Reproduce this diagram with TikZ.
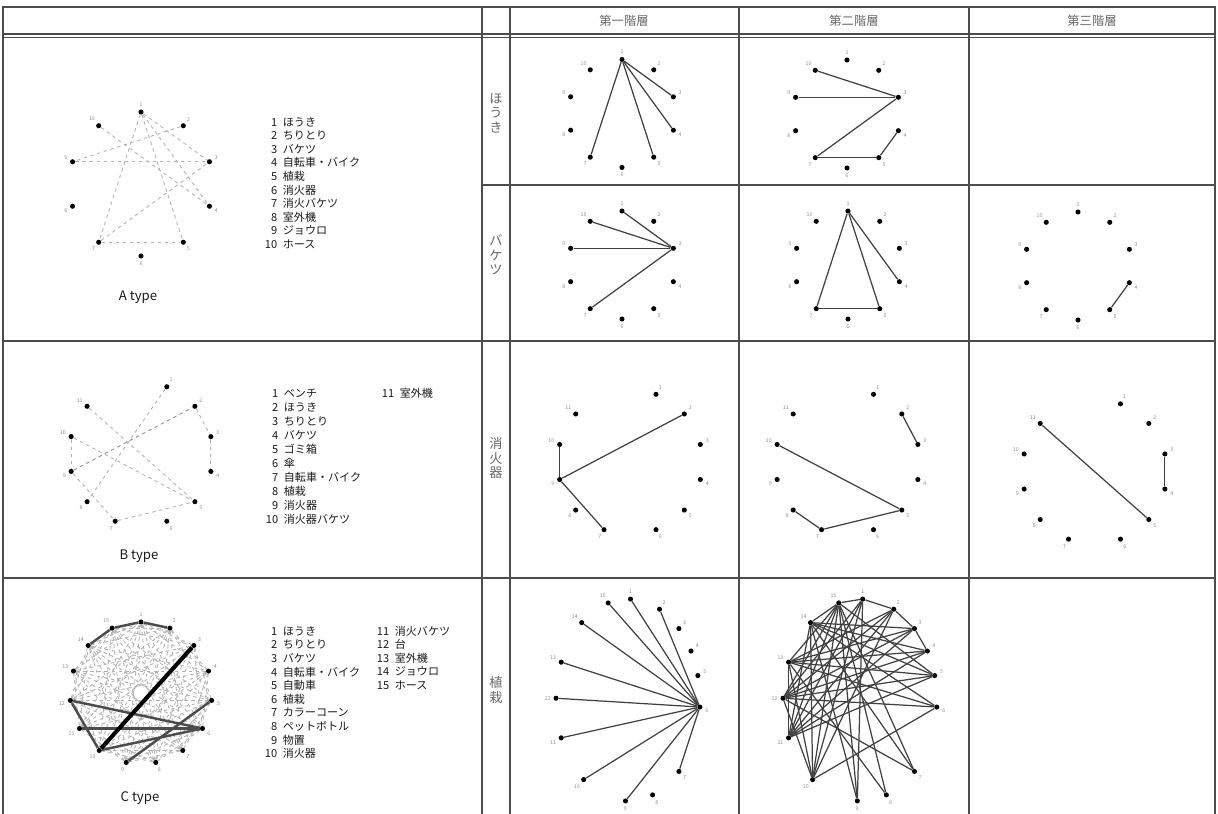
\documentclass[tikz,border=0pt]{standalone}
\usepackage{fontspec}
\setmainfont{Noto Sans CJK JP}
\usetikzlibrary{calc}

\tikzset{
    gridline/.style={draw=black!70, line width=1.1pt},
    dotnode/.style={circle, fill=black, inner sep=0pt, minimum size=2.9pt},
    numlbl/.style={font=\fontsize{3}{3}\selectfont, text=black!45, inner sep=0.5pt, label distance=0.8pt},
    linkline/.style={draw=black!75, line width=0.7pt},
    weaklink/.style={draw=black!30, dash pattern=on 2pt off 2pt, line width=0.5pt},
    strongline/.style={draw=black!70, line width=1.4pt},
    legtext/.style={anchor=west, inner sep=0pt, font=\fontsize{6.3}{7}\selectfont, text=black!90},
    headtext/.style={font=\fontsize{7}{8}\selectfont, text=black!60},
    rowtext/.style={align=center, font=\fontsize{7.5}{8.2}\selectfont, text=black!60},
    typetext/.style={font=\fontsize{7.5}{8}\selectfont, text=black!90}
}

% ring of numbered dots: name, cx, cy, rx, ry, list of number/angle
\newcommand{\drawring}[6]{%
    \foreach \i/\a in #6 {%
        \node[dotnode, label={[numlbl]\a:\i}] (#1-\i) at ({#2+#4*cos(\a)}, {#3-#5*sin(\a)}) {};
    }}
\newcommand{\numbox}[1]{\makebox[6.2pt][r]{#1}\hspace{3.2pt}}

\def\tenring{1/90,2/54,3/18,4/-18,5/-54,6/-90,7/-126,8/-162,9/162,10/126}
\def\elevenring{1/69,2/41.5,3/14,4/-14,5/-41.5,6/-69,7/-111,8/-138.5,9/-166,10/166,11/138.5}
\def\fifteenring{1/90,2/66,3/42,4/18,5/-6,6/-30,7/-54,8/-78,9/-102,10/-126,11/-150,12/-174,13/162,14/138,15/114}
\def\plantring{1/88,2/64,3/45,4/29,5/14,6/-4,7/-45,8/-70,9/-92,10/-128,11/-158,12/179,13/158,14/130,15/106}

\begin{document}
\begin{tikzpicture}[x=0.02cm, y=-0.02cm]
    \useasboundingbox (0,0) rectangle (1218,814);

    % table
    \draw[gridline] (3,814) -- (3,7) -- (1215,7) -- (1215,814);
    \draw[gridline] (3,34) -- (1215,34);
    \draw[gridline] (3,37.5) -- (1215,37.5);
    \draw[gridline] (482,185) -- (1215,185);
    \draw[gridline] (3,341) -- (1215,341);
    \draw[gridline] (3,578) -- (1215,578);
    \foreach \x in {482,510,739,969}
        \draw[gridline] (\x,7) -- (\x,814);

    % headings
    \node[headtext] (h-first) at (624,21) {第一階層};
    \node[headtext] (h-second) at (854,21) {第二階層};
    \node[headtext] (h-third) at (1092,21) {第三階層};
    \node[rowtext] (r-houki) at (496,113) {ほ\\う\\き};
    \node[rowtext] (r-baketsu) at (496,255) {バ\\ケ\\ツ};
    \node[rowtext] (r-shoka) at (496,458) {消\\火\\器};
    \node[rowtext] (r-shokusai) at (496,690) {植\\栽};

    % A type
    \drawring{ta}{141}{184}{72}{72}{\tenring}
    \foreach \u/\v in {1/7,1/5,7/5,9/3,10/4,7/3,1/4,1/3,2/9}
        \draw[weaklink] (ta-\u) -- (ta-\v);
    \foreach \n/\t [count=\k] in {1/ほうき,2/ちりとり,3/バケツ,4/自転車・バイク,5/植栽,6/消火器,7/消火バケツ,8/室外機,9/ジョウロ,10/ホース}
        \node[legtext] (la-\n) at (266,{122+13.6*(\k-1)}) {\numbox{\n}\t};
    \node[typetext] (a-type) at (138,297) {A type};

    % B type
    \drawring{tb}{141}{454}{72}{72}{\elevenring}
    \foreach \u/\v in {11/5,10/5,2/3,3/4,9/7,7/5,1/8,10/9}
        \draw[weaklink] (tb-\u) -- (tb-\v);
    \draw[weaklink, draw=black!45] (tb-9) -- (tb-2);
    \foreach \n/\t [count=\k] in {1/ベンチ,2/ほうき,3/ちりとり,4/バケツ,5/ゴミ箱,6/傘,7/自転車・バイク,8/植栽,9/消火器,10/消火器バケツ}
        \node[legtext] (lb-\n) at (267,{393+14*(\k-1)}) {\numbox{\n}\t};
    \node[legtext] (lb-11) at (383,393) {\numbox{11}室外機};
    \node[typetext] (b-type) at (139,556) {B type};

    % C type
    \drawring{tc}{141}{693}{71}{71}{\fifteenring}
    \foreach \i in {1,...,15}{
        \foreach \k in {2,3,5,6,7}{
            \pgfmathtruncatemacro{\j}{mod(\i+\k-1,15)+1}
            \draw[weaklink] (tc-\i) -- (tc-\j);
        }}
    \foreach \u/\v in {14/15,15/1,1/2,12/6,12/10,11/6,10/6,9/5}
        \draw[strongline] (tc-\u) -- (tc-\v);
    \draw[line width=2.3pt] (tc-3) -- (tc-10);
    \foreach \n/\t [count=\k] in {1/ほうき,2/ちりとり,3/バケツ,4/自転車・バイク,5/自動車,6/植栽,7/カラーコーン,8/ペットボトル,9/物置,10/消火器}
        \node[legtext] (lc-\n) at (266,{631+13.6*(\k-1)}) {\numbox{\n}\t};
    \foreach \n/\t [count=\k] in {11/消火バケツ,12/台,13/室外機,14/ジョウロ,15/ホース}
        \node[legtext] (lc-\n) at (378,{631+13.6*(\k-1)}) {\numbox{\n}\t};
    \node[typetext] (c-type) at (140,798) {C type};

    % ほうき
    \drawring{ha}{622}{113.5}{54}{54}{\tenring}
    \foreach \u/\v in {1/3,1/4,1/5,1/7}
        \draw[linkline] (ha-\u) -- (ha-\v);
    \drawring{hb}{847}{114}{54}{54}{\tenring}
    \foreach \u/\v in {10/3,9/3,3/7,7/5,5/4}
        \draw[linkline] (hb-\u) -- (hb-\v);

    % バケツ
    \drawring{ba}{622}{265}{54}{54}{\tenring}
    \foreach \u/\v in {1/3,10/3,9/3,7/3}
        \draw[linkline] (ba-\u) -- (ba-\v);
    \drawring{bb}{848}{265}{54}{54}{\tenring}
    \foreach \u/\v in {1/7,1/5,1/4,7/5}
        \draw[linkline] (bb-\u) -- (bb-\v);
    \drawring{bc}{1078}{266}{54}{54}{\tenring}
    \draw[linkline] (bc-4) -- (bc-5);

    % 消火器
    \drawring{sa}{630}{462}{72.5}{72.5}{\elevenring}
    \foreach \u/\v in {10/9,9/2,9/7}
        \draw[linkline] (sa-\u) -- (sa-\v);
    \drawring{sb}{847.5}{462}{72.5}{72.5}{\elevenring}
    \foreach \u/\v in {2/3,10/5,5/7,7/8}
        \draw[linkline] (sb-\u) -- (sb-\v);
    \drawring{sc}{1094.5}{471.5}{72.5}{72.5}{\elevenring}
    \foreach \u/\v in {11/5,3/4}
        \draw[linkline] (sc-\u) -- (sc-\v);

    % 植栽
    \drawring{pa}{628}{700}{72}{101}{\plantring}
    \foreach \u in {1,2,7,9,10,11,12,13,14,15}
        \draw[linkline] (pa-\u) -- (pa-6);
    \drawring{pb}{860}{700}{77}{101}{\plantring}
    \foreach \u/\v in {1/10,1/11,1/12,1/9,2/12,2/11,2/10,2/13,3/12,3/11,3/14,3/13,4/12,4/13,4/11,4/14,5/12,5/13,5/11,5/14,5/15,6/13,6/12,6/14,6/10,7/12,7/14,7/15,8/13,8/15,9/14,9/15,10/15,10/14,11/15,11/14,12/15,13/15,14/15,1/15,1/2,2/3,3/4,12/10,11/13,10/13}
        \draw[linkline] (pb-\u) -- (pb-\v);
\end{tikzpicture}
\end{document}
